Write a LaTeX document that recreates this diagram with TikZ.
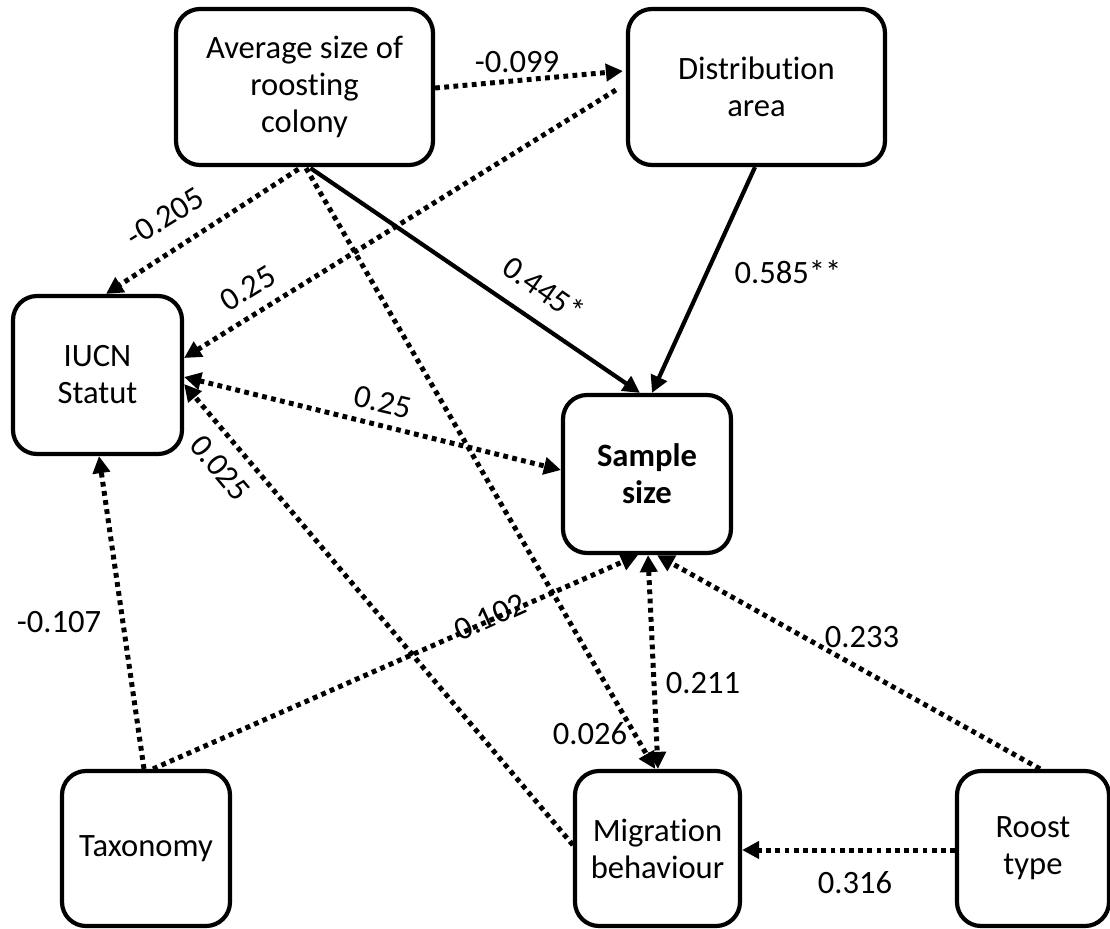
\documentclass[tikz,border=0pt]{standalone}
\usepackage{fontspec}
\setmainfont{Carlito}[Ligatures=CommonOff]
\usetikzlibrary{arrows.meta,calc}
\begin{document}
\begin{tikzpicture}[x=0.5pt,y=-0.5pt,
  box/.style={draw, line width=2.1pt, rounded corners=12pt, align=center,
    font=\fontsize{16.3}{18.5}\selectfont, inner sep=0pt},
  dotline/.style={line width=2.5pt, dash pattern=on 2.4pt off 2.2pt},
  solidline/.style={line width=2.1pt},
  tip/.style={-{Triangle[length=8.5pt,width=8.5pt]}},
  bitip/.style={{Triangle[length=8.5pt,width=8.5pt]}-{Triangle[length=8.5pt,width=8.5pt]}},
  lbl/.style={font=\fontsize{16.3}{18.5}\selectfont, inner sep=0pt}]
\useasboundingbox (0,0) rectangle (1110,928);

% nodes
\node[box, minimum width=128.5pt, minimum height=78pt] (avg) at (304.5,87) {Average size of\\roosting\\colony};
\node[box, minimum width=128.5pt, minimum height=78pt] (dist) at (756.5,87) {Distribution\\area};
\node[box, minimum width=84.5pt, minimum height=79pt] (iucn) at (97.5,375) {IUCN\\Statut};
\node[box, minimum width=84pt, minimum height=79pt] (sample) at (647,474) {\bfseries Sample\\\bfseries size};
\node[box, minimum width=84pt, minimum height=77.5pt] (tax) at (146,848.5) {Taxonomy};
\node[box, minimum width=82.5pt, minimum height=77.5pt] (mig) at (657.5,848.5) {Migration\\behaviour};
\node[box, minimum width=76pt, minimum height=77.5pt] (roost) at (1033,848.5) {Roost\\type};

% connectors
\draw[dotline, tip] ($(avg.east)+(0,1)$) -- ($(dist.west)+(-3,-16)$);
\draw[dotline, tip] ($(dist.west)+(-10,3)$) -- ($(iucn.east)+(0,-17)$);
\draw[dotline, tip] ($(avg.south)+(-6,2)$) -- ($(iucn.north)+(8.5,0)$);
\draw[solidline, tip] ($(avg.south)+(6,1)$) -- ($(sample.north)+(-7,0)$);
\draw[solidline, tip] ($(dist.south)+(-1.5,0)$) -- ($(sample.north)+(5,0)$);
\draw[dotline, bitip] ($(iucn.east)+(0,2)$) -- ($(sample.west)+(0,-4)$);
\draw[dotline, tip] ($(avg.south)+(1.5,1)$) -- ($(mig.north)+(-2.5,0)$);
\draw[dotline, tip] ($(mig.west)+(0,-3.5)$) -- ($(iucn.east)+(0,9)$);
\draw[dotline, tip] ($(tax.north)+(-2,0)$) -- ($(iucn.south)+(1.5,0)$);
\draw[dotline, tip] ($(tax.north)+(7,0)$) -- ($(sample.south)+(-9,0)$);
\draw[dotline, bitip] ($(sample.south)+(1,0)$) -- ($(mig.north)+(0.5,0)$);
\draw[dotline, tip] ($(roost.north)+(7,0)$) -- ($(sample.south)+(10,0)$);
\draw[dotline, tip] ($(roost.west)+(0,1.5)$) -- ($(mig.east)+(0,1.5)$);

% labels
\node[lbl] (l1) at (517,62) {-0.099};
\node[lbl, rotate=31.6] (l2) at (248,288) {0.25};
\node[lbl, rotate=32] (l3) at (165,217) {-0.205};
\node[lbl, rotate=-34.8] (l4) at (544,289) {0.445*};
\node[lbl] (l5) at (788,272) {0.585**};
\node[lbl, rotate=-13.3] (l6) at (383,402) {0.25};
\node[lbl, rotate=-49.8] (l7) at (220,468) {0.025};
\node[lbl] (l8) at (59,622) {-0.107};
\node[lbl, rotate=24.2] (l9) at (490,617) {0.102};
\node[lbl] (l10) at (703,683) {0.211};
\node[lbl] (l11) at (590,734) {0.026};
\node[lbl] (l12) at (862,637) {0.233};
\node[lbl] (l13) at (855,883) {0.316};
\end{tikzpicture}
\end{document}
